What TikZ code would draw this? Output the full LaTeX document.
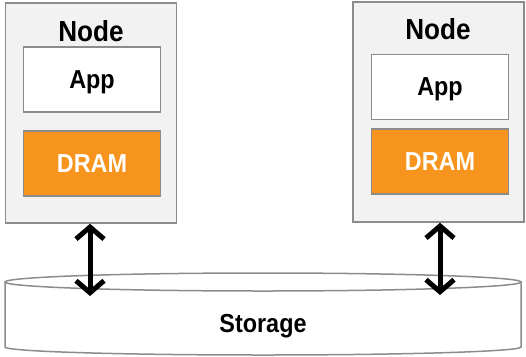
\documentclass[tikz,border=0pt]{standalone}
\usepackage{fontspec}
\setmainfont{Liberation Sans}
\usetikzlibrary{arrows.meta}
\definecolor{boxgray}{HTML}{F2F2F2}
\definecolor{edgegray}{HTML}{8C8C8C}
\definecolor{dramorange}{HTML}{F7941D}
\newcommand{\cond}[1]{\scalebox{0.9}[1]{#1}}
\begin{document}
\begin{tikzpicture}[x=1pt,y=-1pt,
  outerbox/.style={draw=edgegray,fill=boxgray,line width=1.5pt,minimum width=171pt,minimum height=220pt,inner sep=0pt},
  appbox/.style={draw=edgegray,fill=white,line width=1.5pt,minimum width=137pt,minimum height=65pt,inner sep=0pt,text depth=0pt,font=\fontsize{26}{28}\selectfont\bfseries},
  drambox/.style={draw=edgegray,fill=dramorange,line width=1.5pt,minimum width=137pt,minimum height=65pt,inner sep=0pt,text=white,font=\fontsize{26}{28}\selectfont\bfseries},
  titletext/.style={font=\fontsize{29}{31}\selectfont\bfseries,inner sep=0pt,anchor=base},
  biarrow/.style={line width=5pt,{Straight Barb[length=12pt,width=28pt]}-{Straight Barb[length=12pt,width=28pt]}}
]
\useasboundingbox (0,0) rectangle (526,356);
% storage cylinder
\path[draw=edgegray,fill=white,line width=1.5pt] (5,282) -- (5,347) arc[start angle=180,end angle=360,x radius=258pt,y radius=8pt] -- (521,282);
\draw[edgegray,line width=1.5pt] (263,282) ellipse[x radius=258pt,y radius=9pt];
\node[font=\fontsize{26}{28}\selectfont\bfseries,anchor=base,inner sep=0pt] (storage) at (263,332) {\cond{Storage}};
% left node
\node[outerbox] (lnode) at (91,113) {};
\node[titletext] (ltitle) at (91,41.5) {\cond{Node}};
\node[appbox] (lapp) at (92,79.5) {\cond{App}};
\node[drambox] (ldram) at (92,163.5) {\cond{DRAM}};
% right node
\node[outerbox] (rnode) at (438.5,112) {};
\node[titletext] (rtitle) at (438,39) {\cond{Node}};
\node[appbox] (rapp) at (440,87) {\cond{App}};
\node[drambox] (rdram) at (440,161.5) {\cond{DRAM}};
% arrows
\coordinate (ltip) at (90,296);
\coordinate (rtip) at (440,295);
\draw[biarrow] (ltip |- lnode.south) -- (ltip);
\draw[biarrow] (rtip |- rnode.south) -- (rtip);
\end{tikzpicture}
\end{document}
